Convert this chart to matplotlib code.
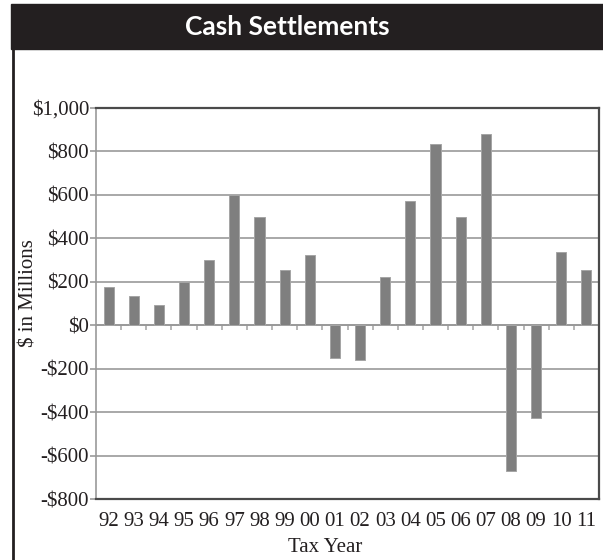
import matplotlib
matplotlib.use('Agg')
import matplotlib.pyplot as plt
from matplotlib.patches import Rectangle
from matplotlib.lines import Line2D
from matplotlib.ticker import FuncFormatter
import numpy as np

years = ['92', '93', '94', '95', '96', '97', '98', '99', '00', '01',
         '02', '03', '04', '05', '06', '07', '08', '09', '10', '11']
settlements = [175, 135, 95, 200, 300, 600, 500, 252, 325, -150,
               -158, 220, 570, 832, 500, 880, -670, -427, 335, 255]
y_ticks = [-800, -600, -400, -200, 0, 200, 400, 600, 800, 1000]

W, H = 603, 560
fig = plt.figure(figsize=(W / 100, H / 100), dpi=100)

# title bar
fig.patches.append(Rectangle((11 / W, 1 - 49 / H), 1 - 11 / W, 45 / H,
                             transform=fig.transFigure, color='#231f20', zorder=0))
fig.text(287 / W, 1 - 27 / H, 'Cash Settlements', color='white', fontsize=19,
         fontweight='bold', family='Lato', ha='center', va='center')
# left frame line
fig.lines.append(Line2D([13 / W, 13 / W], [0, 1 - 49 / H], transform=fig.transFigure,
                        color='#231f20', linewidth=2))

ax = fig.add_axes([96 / W, 1 - 499 / H, (599 - 96) / W, (499 - 108) / H])
x = np.arange(len(years))
ax.bar(x, settlements, width=0.4, color='#7f7f7f', edgecolor='#a5a5a5',
       linewidth=0.7, zorder=3)

ax.set_xlim(-0.5, len(years) - 0.5)
ax.set_ylim(y_ticks[0], y_ticks[-1])
ax.set_yticks(y_ticks)
ax.yaxis.set_major_formatter(FuncFormatter(
    lambda v, p: ('-$' if v < 0 else '$') + f'{abs(int(v)):,}'))
ax.grid(axis='y', color='#999999', linewidth=1.2, zorder=1)
ax.axhline(0, color='#999999', linewidth=1.2, zorder=2)

ax.set_xticks(x)
ax.set_xticklabels(years)
ax.tick_params(axis='x', length=0, pad=9)
ax.tick_params(axis='y', length=4, color='#999999', width=1.2, pad=1)
for lab in ax.get_xticklabels() + ax.get_yticklabels():
    lab.set_family('Liberation Serif')
    lab.set_fontsize(15)
    lab.set_color('#231f20')

for side in ['top', 'bottom', 'right']:
    ax.spines[side].set_color('#4a4a4a')
    ax.spines[side].set_linewidth(1.6)
ax.spines['left'].set_color('#999999')
ax.spines['left'].set_linewidth(1.2)

# ticks between categories on the zero line
sec = ax.secondary_xaxis(0, transform=ax.transData)
sec.set_xticks(x[:-1] + 0.5)
sec.tick_params(length=3.5, width=1.2, color='#aaaaaa', labelbottom=False)
sec.spines['bottom'].set_visible(False)

fig.text(325 / W, 1 - 548 / H, 'Tax Year', family='Liberation Serif', fontsize=15,
         ha='center', va='center', color='#231f20')
fig.text(29 / W, 1 - 293 / H, '$ in Millions', family='Liberation Serif', fontsize=15,
         ha='center', va='center', rotation=90, color='#231f20')

fig.savefig('out.png', dpi=100)
